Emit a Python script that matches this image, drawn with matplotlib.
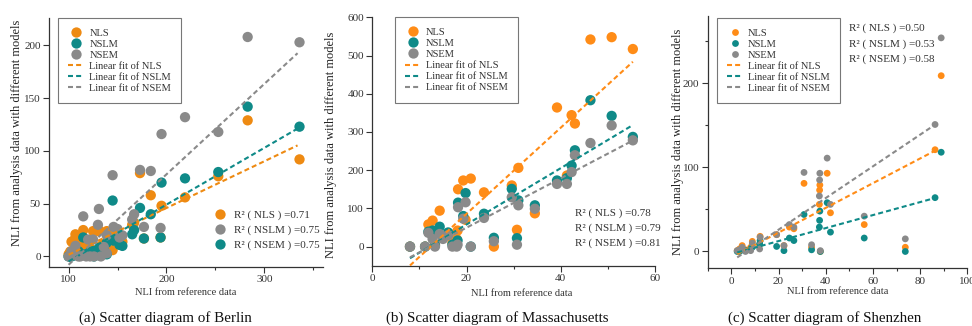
import matplotlib
matplotlib.use('Agg')
import matplotlib.pyplot as plt
from matplotlib.lines import Line2D
import numpy as np

plt.rcParams['font.family'] = ['Liberation Serif', 'DejaVu Serif']

models = ['NLS', 'NSLM', 'NSEM']

# ---------------- Berlin ----------------
berlin_ref = [336, 283, 253, 219, 195, 194, 184, 177, 173, 167, 165, 155, 152, 150, 146,
              145, 139, 139, 136, 133, 131, 130, 126, 125, 122, 120, 118, 115, 112, 110,
              107, 105, 103, 101.7, 100]
berlin_nls = [92, 129, 76, 56, 48, 18, 58, 17, 79, 32, 30, 14, 13, 20, 25,
              6, 24, 5, 12, 10, 25, 24, 3, 24, 8, 10, 5, 25, 10, 17,
              21, 15, 14, 4.7, 2]
berlin_nslm = [123, 142, 80, 74, 70, 18, 40, 17, 46, 25, 21, 10, 11, 17, 15,
               53, 13, 2, 8, 6, 8, 6, 0, 5, 4, 3, 2, 18, 3, 5,
               2, 1, 0, 0, 0]
berlin_nsem = [203, 208, 118, 132, 116, 27, 81, 28, 82, 40, 35, 20, 18, 26, 28,
               77, 20, 3, 9, 0, 45, 30, 0, 16, 0, 16, 0, 38, 0, 0,
               10, 5, 5, 0, 0]
berlin_fit_slope = [0.443, 0.538, 0.857]
berlin_fit_intercept = [-42.7, -58.5, -93.6]
berlin_fit_range = [100, 334]
berlin_r2_labels = ['NLS', 'NSLM', 'NSEM']
berlin_r2 = [0.71, 0.75, 0.75]

# ---------------- Massachusetts ----------------
mass_ref = [55.3, 50.8, 46.3, 43.0, 42.3, 41.3, 39.2, 34.5, 31.0, 30.7, 29.6, 25.8, 23.7,
            20.9, 19.8, 19.3, 18.2, 18.1, 17.9, 17.0, 16.1, 15.0, 14.3, 13.3, 12.8, 11.9,
            11.2, 8.0]
mass_nls = [517, 548, 542, 322, 344, 186, 364, 87, 206, 44, 160, 0, 142,
            178, 70, 173, 150, 42, 20, 10, 30, 25, 94, 5, 68, 58,
            0, 0]
mass_nslm = [287, 342, 383, 252, 212, 179, 173, 108, 121, 22, 151, 23, 86,
             0, 140, 80, 115, 16, 10, 5, 37, 28, 52, 3, 42, 39,
             0, 0]
mass_nsem = [278, 317, 271, 239, 195, 164, 164, 99, 108, 5, 129, 14, 75,
             0, 116, 73, 103, 5, 0, 0, 30, 20, 33, 0, 20, 36,
             0, 0]
mass_fit_slope = [11.27, 7.37, 6.46]
mass_fit_intercept = [-139.6, -89.5, -79.7]
mass_fit_range = [8.0, 55.3]
mass_r2 = [0.78, 0.79, 0.81]

# ---------------- Shenzhen ----------------
shen_ref = [88.9, 86.3, 73.7, 56.3, 42.0, 40.6, 37.5, 37.4, 37.3, 37.7, 34.0, 30.8,
            26.5, 24.6, 22.3, 19.2, 12.2, 12.0, 8.9, 8.2, 6.0, 4.6, 3.5, 2.5]
shen_nls = [209, 121, 5, 32, 46, 93, 79, 73, 56, 0, 5, 81,
            27, 29, 7, 20, 18, 8, 12, 5, 2, 7, 3, 1]
shen_nslm = [118, 64, 0, 16, 23, 58, 48, 37, 29, 0, 2, 44,
             13, 16, 1, 6, 13, 9, 5, 3, 1, 2, 0, 0]
shen_nsem = [254, 151, 15, 42, 56, 111, 93, 85, 66, 1, 8, 94,
             29, 32, 7, 20, 17, 3, 10, 1, 0, 5, 2, 1]
shen_fit_slope = [1.469, 0.773, 1.884]
shen_fit_intercept = [-6.9, -3.1, -11.8]
shen_fit_range = [2.5, 86.3]
shen_r2 = [0.50, 0.53, 0.58]

captions = ['(a) Scatter diagram of Berlin',
            '(b) Scatter diagram of Massachusetts',
            '(c) Scatter diagram of Shenzhen']

TEAL = '#0F8A88'
GRAY = '#8A8A8A'
ORANGE_A = '#EE8A12'
ORANGE_B = '#FF8C17'

fig = plt.figure(figsize=(9.72, 3.26), dpi=100)

ax_a = fig.add_axes([49/972, 59/326, 274/972, 249/326])
ax_b = fig.add_axes([372.3/972, 60.3/326, 282.7/972, 248.4/326])
ax_c = fig.add_axes([707.7/972, 57.7/326, 259.7/972, 252.3/326])

dash = (0, (2.4, 1.5))


def draw(ax, ref, ys, slopes, intercepts, frange, colors, msize, legend_anchor):
    for y, c, m in zip(ys, colors, models):
        ax.scatter(ref, y, s=msize, color=c, edgecolors='none', zorder=2, label=m)
    xs = np.array(frange, dtype=float)
    for sl, ic, c in zip(slopes, intercepts, colors):
        ax.plot(xs, sl * xs + ic, linestyle=dash, color=c, lw=1.5, zorder=3)
    for sp in ['top', 'right']:
        ax.spines[sp].set_visible(False)
    for sp in ['left', 'bottom']:
        ax.spines[sp].set_color('#333333')
        ax.spines[sp].set_linewidth(0.9)
    ax.tick_params(which='major', direction='out', length=4, width=0.8,
                   labelsize=8, pad=2, colors='#333333', labelcolor='#333333')
    ax.tick_params(which='minor', direction='out', length=2.5, width=0.8, colors='#333333')
    ax.set_xlabel('NLI from reference data', fontsize=7.5, color='#333333')
    ax.set_ylabel('NLI from analysis data with different models', fontsize=9, color='#222222')
    ms = np.sqrt(msize)
    handles = [Line2D([], [], marker='o', ls='none', color=c, markersize=ms, markeredgewidth=0)
               for c in colors]
    handles += [Line2D([], [], ls=dash, color=c, lw=1.5) for c in colors]
    labels = models + ['Linear fit of ' + m for m in models]
    leg = ax.legend(handles, labels, loc='upper left', bbox_to_anchor=legend_anchor,
                    fontsize=7.5, frameon=True, fancybox=False, edgecolor='#777777',
                    framealpha=1, handlelength=1.5, handletextpad=0.5,
                    labelspacing=0.17, borderpad=1.0, borderaxespad=0)
    leg.get_frame().set_linewidth(0.8)
    for t in leg.get_texts():
        t.set_color('#333333')
    return leg


# (a) Berlin
colors_a = [ORANGE_A, TEAL, GRAY]
leg_a = draw(ax_a, berlin_ref, [berlin_nls, berlin_nslm, berlin_nsem],
             berlin_fit_slope, berlin_fit_intercept, berlin_fit_range,
             colors_a, 55, (0.033, 1.0))
ax_a.set_xlim(80, 360)
ax_a.set_ylim(-10, 226)
ax_a.set_xticks([100, 200, 300])
ax_a.set_xticks([150, 250, 350], minor=True)
ax_a.set_yticks([0, 50, 100, 150, 200])
r2_colors_a = [ORANGE_A, GRAY, TEAL]
r2_handles = [Line2D([], [], marker='o', ls='none', color=c, markersize=np.sqrt(55),
                     markeredgewidth=0) for c in r2_colors_a]
r2_labels = ['R\u00b2 ( %s ) =%.2f' % (m, v) for m, v in zip(berlin_r2_labels, berlin_r2)]
leg_r2 = ax_a.legend(r2_handles, r2_labels, loc='upper left', bbox_to_anchor=(0.605, 0.23),
                     fontsize=8, frameon=False, handlelength=1.0, handletextpad=0.7,
                     labelspacing=0.48, borderpad=0, borderaxespad=0)
for t in leg_r2.get_texts():
    t.set_color('#333333')
ax_a.add_artist(leg_a)
ax_a.xaxis.set_label_coords(0.5, -0.085)
ax_a.yaxis.set_label_coords(-0.095, 0.54)

# (b) Massachusetts
colors_b = [ORANGE_B, TEAL, GRAY]
draw(ax_b, mass_ref, [mass_nls, mass_nslm, mass_nsem],
     mass_fit_slope, mass_fit_intercept, mass_fit_range,
     colors_b, 55, (0.08, 1.0))
ax_b.set_xlim(0, 60)
ax_b.set_ylim(-50, 600)
ax_b.set_xticks([0, 20, 40, 60])
ax_b.set_xticks([10, 30, 50], minor=True)
ax_b.set_yticks([0, 100, 200, 300, 400, 500, 600])
for i, (m, v) in enumerate(zip(models, mass_r2)):
    ax_b.text(0.717, 0.21 - 0.06 * i, 'R\u00b2 ( %s ) =%.2f' % (m, v), transform=ax_b.transAxes,
              fontsize=8, va='center', ha='left', color='#333333')
ax_b.xaxis.set_label_coords(0.528, -0.092)
ax_b.yaxis.set_label_coords(-0.125, 0.486)

# (c) Shenzhen
colors_c = [ORANGE_B, TEAL, GRAY]
draw(ax_c, shen_ref, [shen_nls, shen_nslm, shen_nsem],
     shen_fit_slope, shen_fit_intercept, shen_fit_range,
     colors_c, 24, (0.035, 0.992))
ax_c.set_xlim(-10, 100)
ax_c.set_ylim(-20, 280)
ax_c.set_xticks([0, 20, 40, 60, 80, 100])
ax_c.set_xticks([-10, 10, 30, 50, 70, 90], minor=True)
ax_c.set_yticks([0, 100, 200])
ax_c.set_yticks([50, 150, 250], minor=True)
for i, (m, v) in enumerate(zip(models, shen_r2)):
    ax_c.text(0.544, 0.95 - 0.061 * i, 'R\u00b2 ( %s ) =%.2f' % (m, v), transform=ax_c.transAxes,
              fontsize=8, va='center', ha='left', color='#333333')
ax_c.xaxis.set_label_coords(0.5, -0.076)
ax_c.yaxis.set_label_coords(-0.092, 0.5)

for x, cap in zip([165, 497, 825], captions):
    fig.text(x / 972, 0.0245, cap, ha='center', va='center', fontsize=10.8, color='#111111')

fig.savefig('out.png', dpi=100)
